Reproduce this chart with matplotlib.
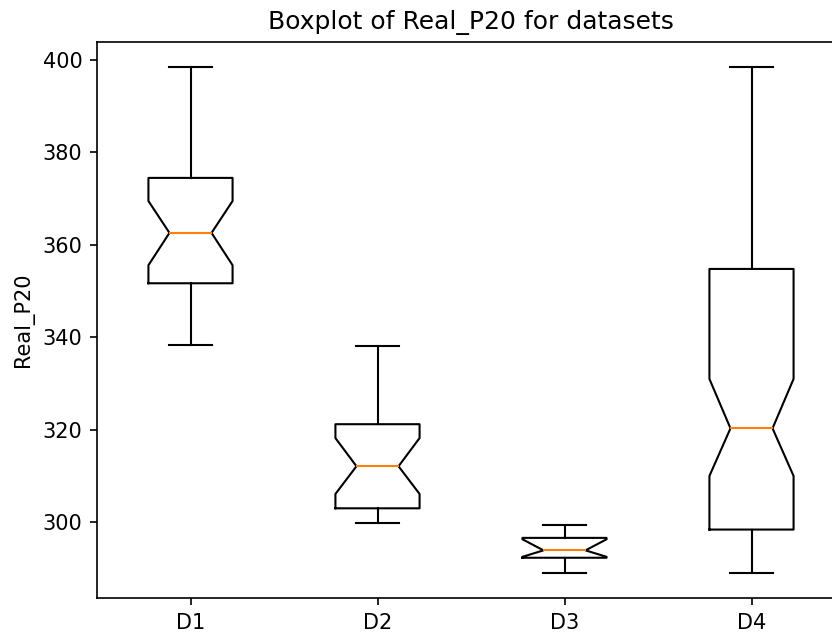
import matplotlib

matplotlib.use("Agg")
import matplotlib.pyplot as plt

# summary statistics
labels = ["D1", "D2", "D3", "D4"]
whislo = [338.3, 299.8, 289.0, 289.0]
q1 = [351.7, 303.0, 292.3, 298.4]
cilo = [355.6, 306.1, 292.5, 310.0]
med = [362.6, 312.1, 293.9, 320.3]
cihi = [369.5, 318.2, 296.3, 331.0]
q3 = [374.5, 321.2, 296.6, 354.8]
whishi = [398.5, 338.1, 299.4, 398.5]

DPI = 150
fig = plt.figure(figsize=(832 / DPI, 636 / DPI), dpi=DPI)
ax = fig.add_axes([97 / 832, 37.7 / 636, 748 / 832, 556.6 / 636])

stats = []
for i, lab in enumerate(labels):
    stats.append(
        {
            "label": lab,
            "whislo": whislo[i],
            "q1": q1[i],
            "cilo": cilo[i],
            "med": med[i],
            "cihi": cihi[i],
            "q3": q3[i],
            "whishi": whishi[i],
            "fliers": [],
        }
    )

ax.bxp(stats, shownotches=True, widths=0.45)
ax.set_xlim(0.5, 4.5)
ax.set_title("Boxplot of Real_P20 for datasets")
ax.set_ylabel("Real_P20")

fig.savefig("out.png", dpi=DPI)
